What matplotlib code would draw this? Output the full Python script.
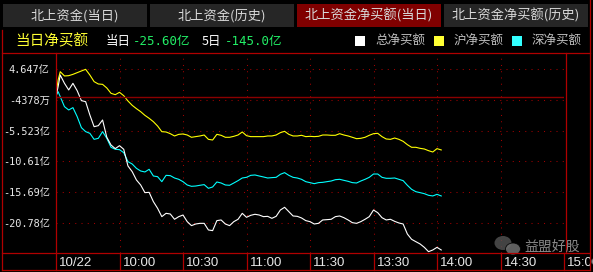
import matplotlib
matplotlib.use('Agg')
import matplotlib.pyplot as plt
from matplotlib.lines import Line2D
from matplotlib.patches import Rectangle, Ellipse
from matplotlib.transforms import ScaledTranslation

W, H = 593, 272
CJK = ['Noto Sans CJK SC', 'DejaVu Sans']
MONO = ['DejaVu Sans Mono', 'Noto Sans CJK SC']

# trading minutes since 9:30 (lunch break skipped)
minutes = [0, 1, 2, 4, 6, 8, 10, 12, 14, 16, 18, 20, 22, 24, 26, 28, 30, 32, 34, 36,
           38, 40, 42, 44, 46, 48, 50, 52, 54, 56, 58, 60, 62, 64, 66, 68, 70, 72, 74,
           76, 78, 80, 82, 84, 86, 88, 90, 92, 94, 96, 98, 100, 102, 104, 106, 108,
           110, 112, 114, 116, 118, 120, 122, 124, 126, 128, 130, 132, 134, 136, 138,
           140, 142, 144, 146, 148, 150, 152, 154, 156, 158, 160, 162, 164, 166, 168,
           170, 172, 174, 176, 178, 180, 182]

# net buy, 亿
total = [0.11, 1.77, 3.70, 2.32, 1.22, 2.32, 1.10, -0.55, -0.72, -2.93, -4.87, -4.70,
         -3.76, -6.63, -7.91, -8.51, -8.02, -8.62, -11.39, -12.33, -13.71, -14.54, -15.81,
         -15.76, -17.30, -18.41, -19.79, -19.24, -19.35, -20.23, -19.79, -19.52, -20.62,
         -21.28, -21.01, -20.90, -20.90, -22.00, -22.11, -20.45, -20.34, -21.01, -21.28,
         -20.62, -20.23, -19.24, -19.90, -19.57, -19.40, -19.52, -19.79, -19.74, -20.07,
         -19.74, -18.69, -18.24, -18.96, -19.68, -19.74, -20.01, -20.45, -20.62, -21.01,
         -20.90, -20.34, -20.29, -20.23, -19.79, -19.68, -19.96, -20.34, -20.79, -20.90,
         -20.62, -20.23, -19.79, -18.69, -19.13, -19.96, -20.34, -20.23, -20.57, -20.84,
         -21.01, -22.67, -23.55, -23.94, -24.32, -24.88, -25.60, -25.32, -24.88, -25.32]
sh = [0.50, 2.87, 4.25, 3.54, 3.59, 3.81, 4.09, 4.37, 4.64, 3.70, 2.60, 2.21, 2.15,
      1.55, 0.66, 0.44, 0.83, 0.27, -0.61, -1.33, -1.88, -2.38, -2.99, -3.48, -4.04,
      -4.76, -5.70, -5.75, -6.03, -6.41, -6.14, -6.08, -6.25, -6.63, -6.52, -6.41,
      -6.25, -6.97, -7.08, -6.14, -6.30, -6.63, -6.63, -6.47, -6.25, -5.75, -6.36,
      -6.52, -6.52, -6.52, -6.52, -6.41, -6.41, -6.25, -5.86, -5.64, -6.14, -6.41,
      -6.41, -6.30, -6.52, -6.47, -6.52, -6.47, -6.25, -6.25, -6.30, -6.30, -6.03,
      -6.25, -6.41, -6.63, -6.86, -6.80, -6.63, -6.30, -6.03, -5.97, -6.52, -6.91,
      -6.97, -6.75, -6.97, -7.30, -7.85, -8.29, -8.29, -8.46, -8.57, -8.85, -9.07,
      -8.51, -8.73]
sz = [0.22, 0.94, 0.11, -1.55, -2.10, -1.71, -3.20, -5.03, -5.69, -5.97, -6.97, -6.80,
      -5.69, -6.80, -8.29, -8.62, -8.68, -9.18, -10.67, -11.06, -11.78, -12.22, -12.38,
      -11.94, -13.05, -13.16, -13.99, -12.94, -12.99, -13.38, -13.60, -13.99, -14.54,
      -14.76, -14.71, -14.59, -14.48, -15.09, -14.87, -14.04, -14.21, -14.54, -14.59,
      -14.21, -13.82, -13.38, -13.27, -12.94, -12.88, -13.05, -13.21, -13.38, -13.32,
      -13.27, -12.77, -12.49, -12.94, -13.27, -13.38, -13.60, -13.99, -14.15, -14.32,
      -14.15, -14.10, -13.99, -13.88, -13.66, -13.60, -13.77, -13.93, -14.15, -14.21,
      -13.88, -13.60, -13.27, -12.72, -12.72, -13.27, -13.43, -13.43, -13.38, -13.60,
      -13.82, -14.59, -15.26, -15.65, -15.81, -15.98, -16.25, -16.36, -16.09, -16.36]

ytick_vals = [4.647, -0.4378, -5.523, -10.61, -15.69, -20.78]
ytick_labels = ['4.647亿', '-4378万', '-5.523亿', '-10.61亿', '-15.69亿', '-20.78亿']
xtick_vals = [0, 30, 60, 90, 120, 150, 180, 210, 240]
xtick_labels = ['10/22', '10:00', '10:30', '11:00', '11:30', '13:30', '14:00', '14:30', '15:00']
tabs = ['北上资金(当日)', '北上资金(历史)', '北上资金净买额(当日)', '北上资金净买额(历史)']
today_net = '-25.60亿'
five_day_net = '-145.0亿'

RED = '#b00000'
GRID = '#a00000'


def fx(x):
    return x / W


def fy(y):
    return 1 - y / H


def hline(fig, x0, x1, y, color=RED, lw=0.9):
    fig.add_artist(Line2D([fx(x0), fx(x1)], [fy(y), fy(y)], color=color, lw=lw,
                          transform=fig.transFigure))


def vline(fig, x, y0, y1, color=RED, lw=0.9):
    fig.add_artist(Line2D([fx(x), fx(x)], [fy(y0), fy(y1)], color=color, lw=lw,
                          transform=fig.transFigure))


fig = plt.figure(figsize=(W / 100, H / 100), dpi=100, facecolor='black')

# tabs
tab_x = [3, 150, 297, 444]
for i, name in enumerate(tabs):
    bg = '#800000' if i == 2 else '#262626'
    fig.add_artist(Rectangle((fx(tab_x[i]), fy(27)), 144 / W, 23 / H, facecolor=bg,
                             edgecolor='none', transform=fig.transFigure))
    fig.text(fx(tab_x[i] + 72), fy(15.5), name, color='#d8d8d8', fontsize=9.5,
             family=CJK, ha='center', va='center')

# header row
fig.text(fx(15), fy(41), '当日净买额', color='#ffff33', fontsize=10.5, family=CJK, va='center')
fig.text(fx(106), fy(41), '当日', color='white', fontsize=9, family=CJK, va='center')
fig.text(fx(133), fy(41), today_net, color='#22ee66', fontsize=9, family=MONO, va='center')
fig.text(fx(202), fy(41), '5日', color='white', fontsize=9, family=CJK, va='center')
fig.text(fx(225), fy(41), five_day_net, color='#22ee66', fontsize=9, family=MONO, va='center')

legend = [('总净买额', 'white', 355), ('沪净买额', '#ffff33', 434), ('深净买额', '#33ffff', 512)]
for name, col, x in legend:
    fig.add_artist(Rectangle((fx(x), fy(46)), 10 / W, 10 / H, facecolor=col,
                             edgecolor='none', transform=fig.transFigure))
    fig.text(fx(x + 20), fy(41), name, color='#c0c0c0', fontsize=9, family=CJK, va='center')

# chart
ax = fig.add_axes([fx(56), fy(253), (564 - 56) / W, (253 - 53) / H])
ax.set_facecolor('black')
ax.plot(minutes, sh, color='#ffff00', lw=0.8)
ax.plot(minutes, sz, color='#00ffff', lw=0.8)
ax.plot(minutes, total, color='white', lw=0.8)
ax.axhline(0, color='#8a0000', lw=1.0)
ax.set_xlim(0, 240)
ax.set_ylim(-25.82, 7.35)
ax.set_yticks(ytick_vals, ytick_labels)
ax.set_xticks(xtick_vals, xtick_labels)
ax.grid(True, color=GRID, linestyle=(0, (1, 5)), lw=0.75)
ax.tick_params(length=0)
ax.tick_params(axis='y', colors='#e8e8e8', labelsize=7.4, pad=4.5)
ax.tick_params(axis='x', colors='#e8e8e8', labelsize=9.5, pad=3)
for lab in ax.get_yticklabels():
    lab.set_family(MONO)
for lab in ax.get_xticklabels():
    lab.set_family('Liberation Sans')
    lab.set_ha('left')
    lab.set_transform(lab.get_transform() + ScaledTranslation(0.03, 0, fig.dpi_scale_trans))
for s in ax.spines.values():
    s.set_visible(False)

# frame
hline(fig, 2, 590, 53)
hline(fig, 2, 590, 253)
hline(fig, 2, 590, 270)
vline(fig, 2, 30, 270)
vline(fig, 590, 0, 270)
vline(fig, 56, 53, 270)
vline(fig, 566, 53, 253)
for m in xtick_vals[1:]:
    vline(fig, 56 + m * (564 - 56) / 240, 253, 270)

# watermark
fig.add_artist(Ellipse((fx(503), fy(243)), 17 / W, 14 / H, facecolor='#555555',
                       edgecolor='none', alpha=0.8, transform=fig.transFigure))
fig.add_artist(Ellipse((fx(513), fy(249)), 15 / W, 12 / H, facecolor='#6a6a6a',
                       edgecolor='#000000', lw=0.6, alpha=0.9, transform=fig.transFigure))
fig.text(fx(524), fy(247), '益盟好股', color='#8a8a8a', fontsize=10, family=CJK, va='center')

fig.savefig('out.png', dpi=100, facecolor='black')
